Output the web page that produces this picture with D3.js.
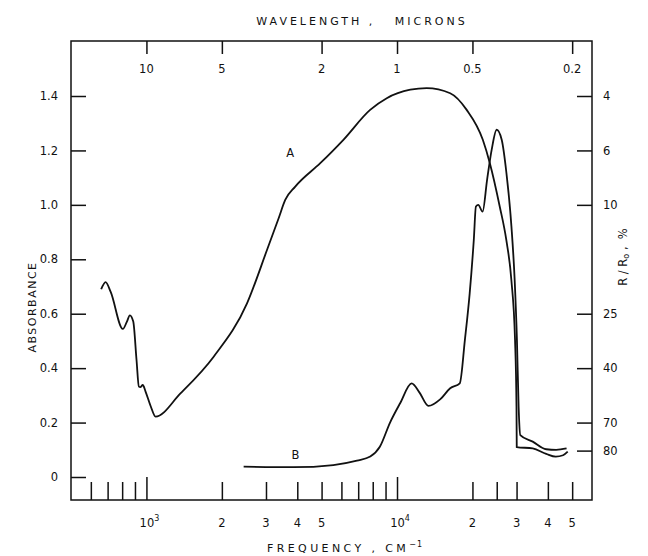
<!DOCTYPE html>
<html>
<head>
<meta charset="utf-8">
<script src="https://cdn.jsdelivr.net/npm/d3@7"></script>
<style>
  body { margin: 0; background: #fff; }
  text { font-family: "DejaVu Sans", sans-serif; fill: #111; }
</style>
</head>
<body>
<div class="chart"></div>
<script>
// curve A: frequency (cm-1) and absorbance
var freqA = [660, 687, 720, 805, 835, 859, 886, 913, 933, 945, 967, 992, 1040, 1087,
  1367, 1855, 2520, 3030, 3370, 3580, 3925, 4940, 6110, 7810, 9100, 11300, 13130,
  16300, 18970, 22000, 23470, 25700, 27300, 28600, 29580, 29980, 30050, 34800,
  39400, 43000, 46000, 48000];
var absA = [0.69, 0.716, 0.68, 0.544, 0.57, 0.594, 0.571, 0.43, 0.332, 0.33, 0.338, 0.314, 0.26, 0.222,
  0.307, 0.442, 0.638, 0.835, 0.951, 1.018, 1.067, 1.153, 1.239, 1.349, 1.392, 1.423, 1.429,
  1.41, 1.349, 1.239, 1.153, 0.994, 0.871, 0.724, 0.504, 0.258, 0.11, 0.105,
  0.085, 0.075, 0.08, 0.093];

// curve B
var freqB = [2443, 3860, 5570, 6920, 7820, 8540, 9380, 10290, 11440, 12300, 13350, 14900,
  16300, 17800, 18660, 19500, 20250, 20650, 21100, 21950, 22880, 23860, 24990, 26170,
  27330, 28620, 29480, 30100, 30570, 31040, 34800, 39400, 43200, 47500];
var absB = [0.038, 0.036, 0.044, 0.06, 0.075, 0.111, 0.2, 0.271, 0.344, 0.31, 0.261, 0.286,
  0.326, 0.344, 0.504, 0.675, 0.871, 0.994, 1.0, 0.975, 1.092, 1.202, 1.276, 1.239,
  1.117, 0.92, 0.724, 0.504, 0.258, 0.154, 0.13, 0.102, 0.1, 0.105];

// axes
var leftTicks = [0, 0.2, 0.4, 0.6, 0.8, 1.0, 1.2, 1.4];
var leftLabels = ["0", "0.2", "0.4", "0.6", "0.8", "1.0", "1.2", "1.4"];
var rightTickAbs = [1.4, 1.2, 1.0, 0.6, 0.4, 0.2, 0.097];
var rightLabels = ["4", "6", "10", "25", "40", "70", "80"];
var minorFreq = [600, 700, 800, 900, 2000, 3000, 4000, 5000, 6000, 7000, 8000, 9000,
  20000, 25000, 30000, 40000, 50000];
var majorFreq = [1000, 10000];
var bottomLabelFreq = [1000, 2000, 3000, 4000, 5000, 10000, 20000, 30000, 40000, 50000];
var bottomLabels = ["10|3", "2", "3", "4", "5", "10|4", "2", "3", "4", "5"];
var waveMicrons = [10, 5, 2, 1, 0.5, 0.2];
var waveLabels = ["10", "5", "2", "1", "0.5", "0.2"];

var svgWidth = 648, svgHeight = 556;
var frame = { left: 71, right: 592, top: 41, bottom: 500 };

var svg = d3.select(".chart").append("svg")
  .attr("width", svgWidth)
  .attr("height", svgHeight);

var x = d3.scaleLog().domain([500, 60000]).range([frame.left, frame.right]);
var y = d3.scaleLinear().domain([0, 1.4]).range([477, 96]);

// frame
svg.append("rect")
  .attr("x", frame.left).attr("y", frame.top)
  .attr("width", frame.right - frame.left).attr("height", frame.bottom - frame.top)
  .attr("fill", "none").attr("stroke", "#111").attr("stroke-width", 1.5);

// left axis
var leftAxis = d3.axisLeft(y).tickValues(leftTicks)
  .tickSize(-15).tickPadding(13)
  .tickFormat((d, i) => leftLabels[i]);
var gl = svg.append("g").attr("transform", `translate(${frame.left},0)`).call(leftAxis);

// right axis
var rightAxis = d3.axisRight(y).tickValues(rightTickAbs)
  .tickSize(-15).tickPadding(11)
  .tickFormat((d, i) => rightLabels[i]);
var gr = svg.append("g").attr("transform", `translate(${frame.right},0)`).call(rightAxis);

// bottom ticks (drawn upward)
var gMinor = svg.append("g").attr("transform", `translate(0,${frame.bottom})`)
  .call(d3.axisBottom(x).tickValues(minorFreq).tickSize(-18).tickFormat(""));
var gMajor = svg.append("g").attr("transform", `translate(0,${frame.bottom})`)
  .call(d3.axisBottom(x).tickValues(majorFreq).tickSize(-23).tickFormat(""));

// top ticks (drawn downward) in wavelength
var gTop = svg.append("g").attr("transform", `translate(0,${frame.top})`)
  .call(d3.axisTop(x).tickValues(waveMicrons.map(w => 1e4 / w)).tickSize(-13).tickFormat(""));

[gl, gr, gMinor, gMajor, gTop].forEach(function(g) {
  g.select(".domain").remove();
  g.selectAll(".tick line").attr("stroke", "#111").attr("stroke-width", 1.5);
  g.selectAll(".tick text").attr("font-size", 11.5).attr("fill", "#111")
    .attr("font-family", "DejaVu Sans, sans-serif");
});

// top labels
svg.selectAll(".wlab").data(waveMicrons).enter().append("text")
  .attr("class", "wlab")
  .attr("x", d => x(1e4 / d))
  .attr("y", 73)
  .attr("text-anchor", "middle")
  .attr("font-size", 11.5)
  .text((d, i) => waveLabels[i]);

// bottom labels
bottomLabelFreq.forEach(function(f, i) {
  var parts = bottomLabels[i].split("|");
  var t = svg.append("text")
    .attr("x", x(f) + (parts.length > 1 ? 3 : 0))
    .attr("y", 527)
    .attr("text-anchor", "middle")
    .attr("font-size", 11.5)
    .text(parts[0]);
  if (parts.length > 1) {
    t.append("tspan").attr("font-size", 8).attr("dy", -6).text(parts[1]);
  }
});

// titles
svg.append("text")
  .attr("x", 362).attr("y", 25)
  .attr("text-anchor", "middle")
  .attr("font-size", 11)
  .attr("letter-spacing", 3)
  .attr("xml:space", "preserve")
  .text("WAVELENGTH ,   MICRONS");

var ft = svg.append("text")
  .attr("x", 345).attr("y", 552)
  .attr("text-anchor", "middle")
  .attr("font-size", 11)
  .attr("letter-spacing", 3.4)
  .text("FREQUENCY , CM");
ft.append("tspan").attr("font-size", 8).attr("dy", -5).attr("letter-spacing", 1).text("−1");

svg.append("text")
  .attr("transform", "translate(36,307) rotate(-90)")
  .attr("text-anchor", "middle")
  .attr("font-size", 11)
  .attr("letter-spacing", 1.5)
  .text("ABSORBANCE");

var rt = svg.append("text")
  .attr("transform", "translate(627,257) rotate(-90)")
  .attr("text-anchor", "middle")
  .attr("font-size", 11.5)
  .attr("xml:space", "preserve")
  .text("R / R");
rt.append("tspan").attr("font-size", 8).attr("dy", 2).text("o");
rt.append("tspan").attr("dy", -2).text(" ,  %");

// curves
var line = d3.line()
  .x(d => x(d[0]))
  .y(d => y(d[1]))
  .curve(d3.curveMonotoneX);

svg.append("path")
  .datum(freqA.map((f, i) => [f, absA[i]]))
  .attr("d", line)
  .attr("fill", "none").attr("stroke", "#111").attr("stroke-width", 1.8);

svg.append("path")
  .datum(freqB.map((f, i) => [f, absB[i]]))
  .attr("d", line)
  .attr("fill", "none").attr("stroke", "#111").attr("stroke-width", 1.8);

// curve labels
svg.append("text").attr("x", x(3750)).attr("y", y(1.19) + 4)
  .attr("text-anchor", "middle").attr("font-size", 11.5).text("A");
svg.append("text").attr("x", x(3930)).attr("y", y(0.081) + 4)
  .attr("text-anchor", "middle").attr("font-size", 11.5).text("B");
</script>
</body>
</html>
